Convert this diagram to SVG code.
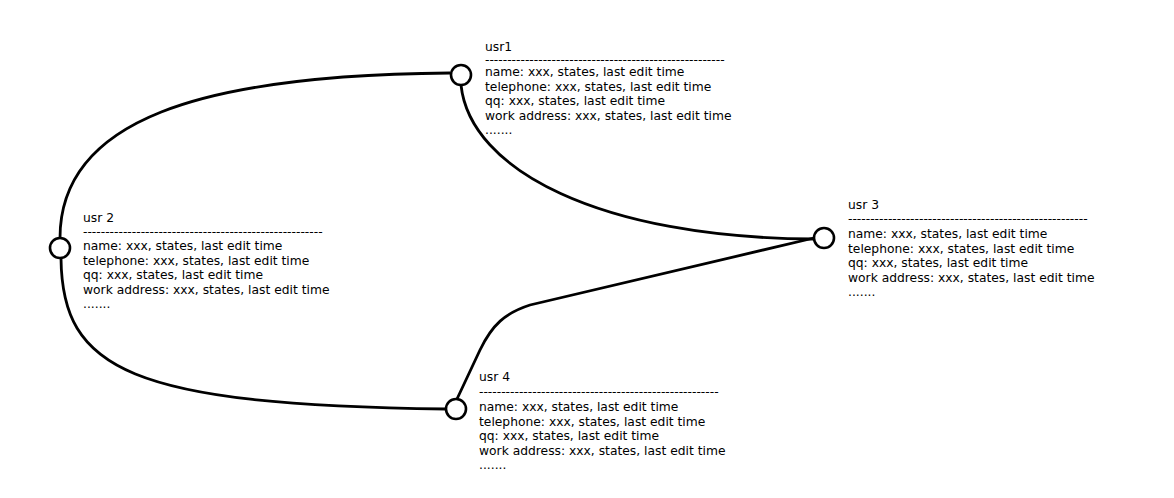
<svg xmlns="http://www.w3.org/2000/svg" width="1174" height="498" viewBox="0 0 1174 498">
<style>
text{font-family:"DejaVu Sans","Liberation Sans",sans-serif;font-size:12.3px;fill:#000}
.node circle{fill:#fff;stroke:#000;stroke-width:2.6}
#connectors path{fill:none;stroke:#000;stroke-width:2.8}
</style>
<rect width="1174" height="498" fill="#fff"/>
<g id="connectors">
<path d="M450,73 C200,75 60,120 60,238"/>
<path d="M61,258 C62,370 130,405 446,409"/>
<path d="M461,85 C470,170 600,238 814,239"/>
<path d="M457,399 L480,350 C492,325 505,313 530,305 L814,238"/>
</g>
<g id="usr1" class="node">
<circle cx="461" cy="75" r="10"/>
<text x="485" y="51">usr1</text>
<text x="485" y="63.5">------------------------------------------------------</text>
<text x="485" y="76">name: xxx, states, last edit time</text>
<text x="485" y="90.6">telephone: xxx, states, last edit time</text>
<text x="485" y="105.2">qq: xxx, states, last edit time</text>
<text x="485" y="119.8">work address: xxx, states, last edit time</text>
<text x="485" y="134.4">.......</text>
</g>
<g id="usr2" class="node">
<circle cx="60" cy="248" r="10"/>
<text x="83" y="222">usr 2</text>
<text x="83" y="235.5">------------------------------------------------------</text>
<text x="83" y="250">name: xxx, states, last edit time</text>
<text x="83" y="264.6">telephone: xxx, states, last edit time</text>
<text x="83" y="279.2">qq: xxx, states, last edit time</text>
<text x="83" y="293.8">work address: xxx, states, last edit time</text>
<text x="83" y="308.4">.......</text>
</g>
<g id="usr3" class="node">
<circle cx="824" cy="238" r="10"/>
<text x="848" y="209">usr 3</text>
<text x="848" y="222.5">------------------------------------------------------</text>
<text x="848" y="238">name: xxx, states, last edit time</text>
<text x="848" y="252.6">telephone: xxx, states, last edit time</text>
<text x="848" y="267.2">qq: xxx, states, last edit time</text>
<text x="848" y="281.8">work address: xxx, states, last edit time</text>
<text x="848" y="296.4">.......</text>
</g>
<g id="usr4" class="node">
<circle cx="456" cy="409" r="10"/>
<text x="479" y="381">usr 4</text>
<text x="479" y="395.5">------------------------------------------------------</text>
<text x="479" y="411">name: xxx, states, last edit time</text>
<text x="479" y="425.6">telephone: xxx, states, last edit time</text>
<text x="479" y="440.2">qq: xxx, states, last edit time</text>
<text x="479" y="454.8">work address: xxx, states, last edit time</text>
<text x="479" y="469.4">.......</text>
</g>
</svg>
